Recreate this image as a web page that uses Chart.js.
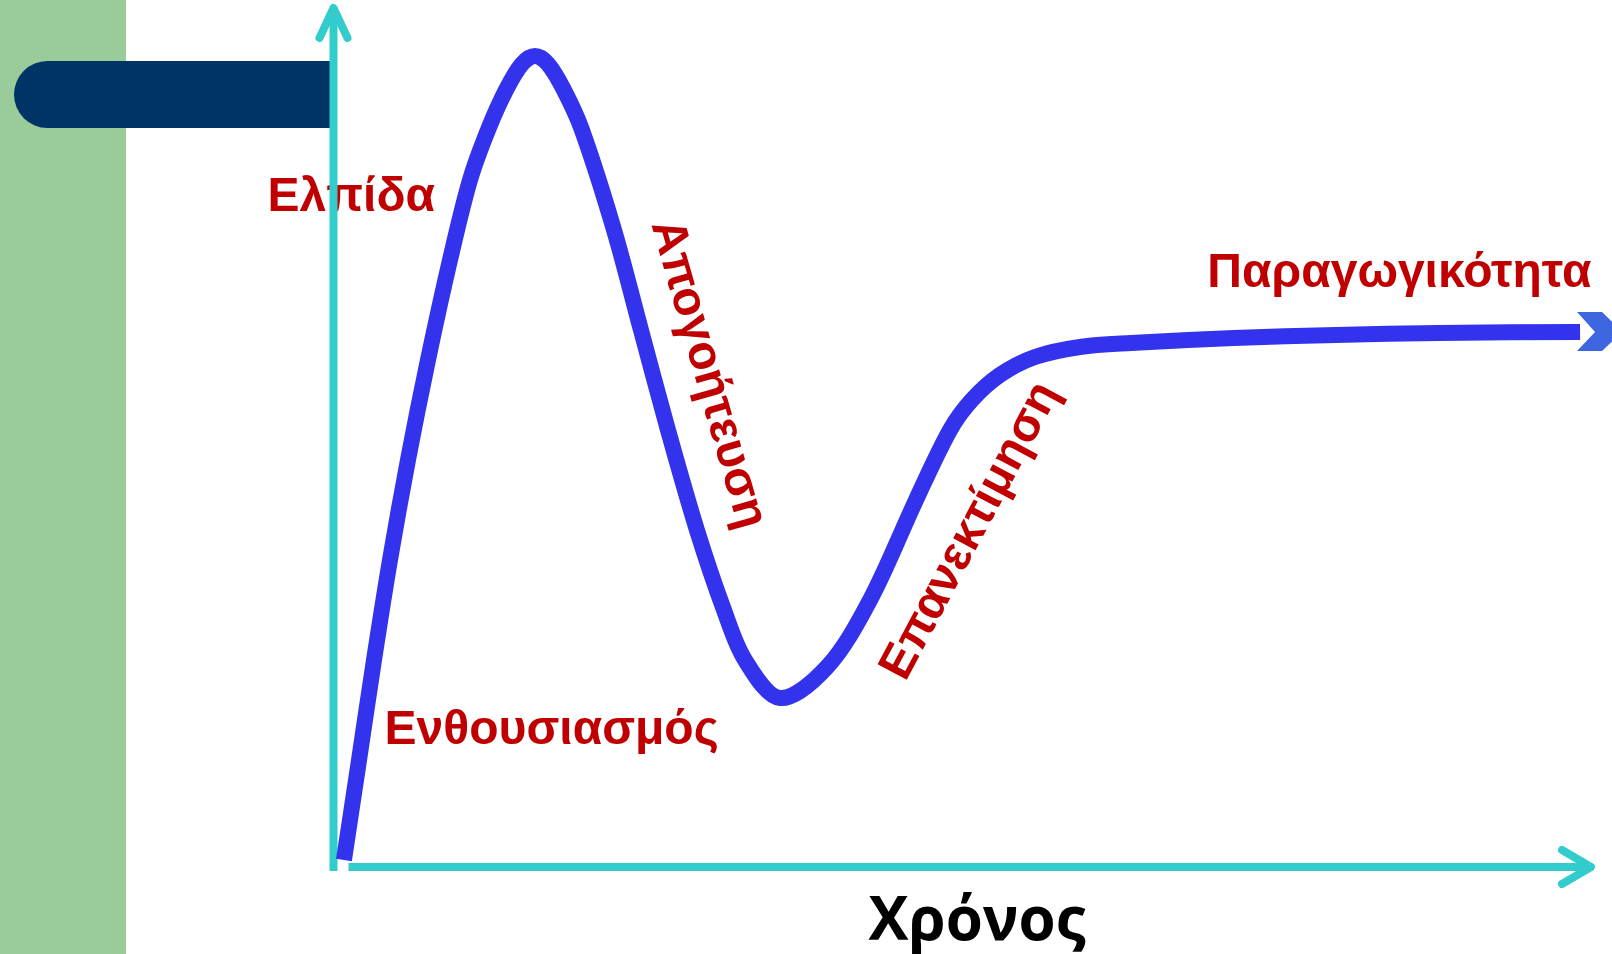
<!DOCTYPE html>
<html lang="el">
<head>
<meta charset="utf-8">
<title>Καμπύλη αλλαγής</title>
<script src="https://cdn.jsdelivr.net/npm/chart.js@4.4.1/dist/chart.umd.min.js"></script>
<style>
  html, body { margin: 0; padding: 0; background: #fff; }
  canvas { display: block; }
</style>
</head>
<body>
<canvas id="curve" width="1612" height="954"></canvas>
<script>
// time (0..100) and hope level (0..100)
const timeValues = [0.87, 2.07, 3.26, 4.53, 5.96, 7.55, 9.30, 10.89, 12.32, 13.75, 15.02, 16.06, 17.09, 18.36, 19.79, 22.34, 24.48, 26.63, 28.93, 31.08, 32.75, 35.53, 39.27, 42.69, 46.34, 49.05, 50.79, 53.02, 55.80, 59.38, 63.43, 71.62, 79.73, 87.92, 99.13];
const hopeValues = [0.81, 12.46, 24.10, 35.74, 47.38, 59.02, 70.66, 79.98, 85.80, 90.45, 93.48, 94.41, 93.48, 90.45, 85.80, 74.16, 62.51, 50.87, 39.23, 29.92, 24.10, 19.67, 23.28, 31.08, 42.72, 50.87, 54.37, 57.28, 59.37, 60.54, 61.00, 61.58, 61.93, 62.17, 62.29];

const phaseNames = ["Ελπίδα", "Ενθουσιασμός", "Απογοήτευση", "Επανεκτίμηση", "Παραγωγικότητα"];
const axisTitle = "Χρόνος";

// where the labels sit, in chart units (angle in degrees)
const phaseSpots = [
  { x: -5.2, y: 76.4, angle: 0, align: "left" },
  { x: 4.1, y: 14.3, angle: 0, align: "left" },
  { x: 29.8, y: 57.4, angle: 74, align: "center" },
  { x: 50.7, y: 39.1, angle: -62, align: "center" },
  { x: 69.5, y: 67.5, angle: 0, align: "left" }
];
const titleSpot = { x: 51.2, y: -8.5 };

const RED = "#c00000";
const CYAN = "#33cccc";
const BLUE = "#3333ee";

const decorPlugin = {
  id: "decor",
  beforeDraw(chart) {
    const c = chart.ctx;
    c.save();
    c.fillStyle = "#99cc99";
    c.fillRect(0, 0, 126, chart.height);
    c.fillStyle = "#003366";
    c.beginPath();
    c.roundRect(14, 61, 318, 67, [34, 0, 0, 34]);
    c.fill();
    c.restore();
  },
  beforeDatasetsDraw(chart) {
    const c = chart.ctx;
    const xs = chart.scales.x, ys = chart.scales.y;
    c.save();

    // phase labels
    c.fillStyle = RED;
    c.font = 'bold 48px "Liberation Sans", Arial, sans-serif';
    phaseNames.forEach((name, i) => {
      const s = phaseSpots[i];
      c.save();
      c.translate(xs.getPixelForValue(s.x), ys.getPixelForValue(s.y));
      c.rotate(s.angle * Math.PI / 180);
      c.textAlign = s.align;
      c.textBaseline = s.align === "center" ? "middle" : "alphabetic";
      c.fillText(name, 0, 0);
      c.restore();
    });

    // x axis title
    c.fillStyle = "#000";
    c.font = 'bold 60px "Open Sans", sans-serif';
    c.textAlign = "center";
    c.textBaseline = "alphabetic";
    c.fillText(axisTitle, xs.getPixelForValue(titleSpot.x), ys.getPixelForValue(titleSpot.y));

    // axes with open arrow heads
    const x0 = xs.getPixelForValue(0) + 0.5, y0 = ys.getPixelForValue(0);
    const xEnd = xs.getPixelForValue(100), yEnd = ys.getPixelForValue(100);
    c.strokeStyle = CYAN;
    c.lineWidth = 8;
    c.lineCap = "butt";
    c.beginPath(); c.moveTo(x0, y0 + 4); c.lineTo(x0, yEnd + 3); c.stroke();
    c.beginPath(); c.moveTo(x0 + 15, y0); c.lineTo(xEnd - 3, y0); c.stroke();
    c.lineCap = "round";
    c.lineJoin = "round";
    c.beginPath(); c.moveTo(x0 - 14, yEnd + 30); c.lineTo(x0, yEnd); c.lineTo(x0 + 14, yEnd + 30); c.stroke();
    c.beginPath(); c.moveTo(xEnd - 29, y0 - 17); c.lineTo(xEnd, y0); c.lineTo(xEnd - 29, y0 + 17); c.stroke();
    c.restore();
  },
  afterDatasetsDraw(chart) {
    // chevron arrow head at the end of the curve
    const pts = chart.getDatasetMeta(0).data;
    const p = pts[pts.length - 1];
    const c = chart.ctx;
    c.save();
    c.fillStyle = "#3d66e0";
    c.beginPath();
    c.moveTo(p.x - 3, p.y - 20);
    c.lineTo(p.x + 22, p.y - 20);
    c.lineTo(p.x + 42, p.y);
    c.lineTo(p.x + 22, p.y + 19);
    c.lineTo(p.x - 3, p.y + 19);
    c.lineTo(p.x + 15, p.y);
    c.closePath();
    c.fill();
    c.restore();
  }
};

new Chart(document.getElementById("curve"), {
  type: "line",
  data: {
    datasets: [{
      data: timeValues.map((t, i) => ({ x: t, y: hopeValues[i] })),
      borderColor: BLUE,
      borderWidth: 16,
      borderJoinStyle: "round",
      pointRadius: 0,
      tension: 0.33,
      fill: false
    }]
  },
  options: {
    responsive: false,
    animation: false,
    events: [],
    layout: { padding: { left: 333, right: 21, top: 8, bottom: 87 } },
    scales: {
      x: { type: "linear", min: 0, max: 100, display: false },
      y: { type: "linear", min: 0, max: 100, display: false }
    },
    plugins: {
      legend: { display: false },
      tooltip: { enabled: false }
    }
  },
  plugins: [decorPlugin]
});
</script>
</body>
</html>
